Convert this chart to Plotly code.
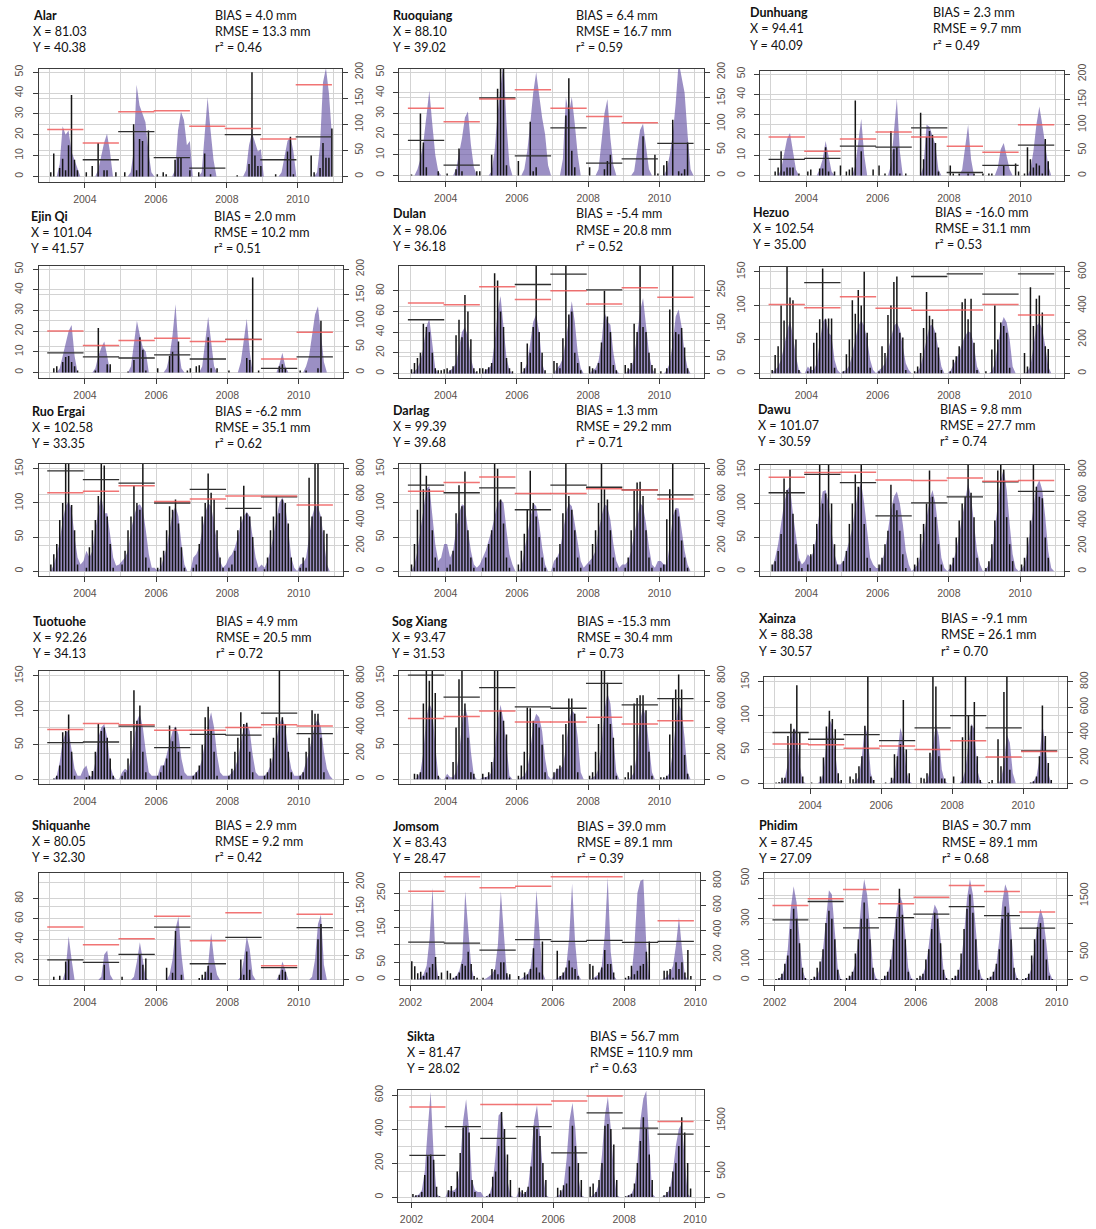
import plotly.graph_objects as go

W, H = 1096, 1229

# ---------------------------------------------------------------- station info
STATIONS = ["Alar", "Ruoquiang", "Dunhuang", "Ejin Qi", "Dulan", "Hezuo",
            "Ruo Ergai", "Darlag", "Dawu", "Tuotuohe", "Sog Xiang", "Xainza",
            "Shiquanhe", "Jomsom", "Phidim", "Sikta"]
LON = ["81.03", "88.10", "94.41", "101.04", "98.06", "102.54", "102.58", "99.39",
       "101.07", "92.26", "93.47", "88.38", "80.05", "83.43", "87.45", "81.47"]
LAT = ["40.38", "39.02", "40.09", "41.57", "36.18", "35.00", "33.35", "39.68",
       "30.59", "34.13", "31.53", "30.57", "32.30", "28.47", "27.09", "28.02"]
BIAS = ["4.0", "6.4", "2.3", "2.0", "-5.4", "-16.0", "-6.2", "1.3",
        "9.8", "4.9", "-15.3", "-9.1", "2.9", "39.0", "30.7", "56.7"]
RMSE = ["13.3", "16.7", "9.7", "10.2", "20.8", "31.1", "35.1", "29.2",
        "27.7", "20.5", "30.4", "26.1", "9.2", "89.1", "89.1", "110.9"]
R2 = ["0.46", "0.59", "0.49", "0.51", "0.52", "0.53", "0.62", "0.71",
      "0.74", "0.72", "0.73", "0.70", "0.42", "0.39", "0.68", "0.63"]
START_YEAR = [2003, 2003, 2003, 2003, 2003, 2003, 2003, 2003,
              2003, 2003, 2003, 2003, 2003, 2002, 2002, 2002]

# ------------------------------------------- monthly precipitation (mm/month)
# *_sim: simulated (shaded area), *_obs: gauge (stems); one row per year
alar_sim = [0,0,0,6,24,20,22,12,8,3,0,0,
            0,0,0,0,3,10,16,20.5,12,0,0,0,
            0,0,0,2,12,44,34,30,26,12,2,0,
            0,0,0,0,0,0,3,22,31,27,15,17,
            0,0,0,2,20,38,22,8,0,0,0,0,
            0,0,0,0,0,0,3,15,21,16,12,13,
            0,0,0,0,0,0,2,10,17,19,12,0,
            0,0,0,0,0,0,2,15,45,52,40,20]
alar_obs = [2,11,0,4,8.5,3,15,39,8,3,0,0,
            2,0,5,0,16,0,3,3,0,0,2,0,
            0,2,0,0,25,3,18,17,0,22,0,0,
            1,0,2,1,0,0,8,9,9,0,0,3,
            0,0,2,0,11,0,1,0,0,0,0,0,
            0,0,0,0.5,0,0,0,6,50,10,5,5,
            0,0,0,0,1,0,0,0,12,19,1,0,
            0,0,0,0,10,2,0,4,16,9,9,23]

ruoquiang_sim = [0,0,3,8,16,28,41,25,10,2,0,0,
                 0,0,0,3,10,18,28,31,15,4,0,0,
                 0,0,0,2,12,30,45,55,25,5,0,0,
                 0,0,3,12,25,40,50,38,28,20,5,0,
                 0,0,0,8,38,30,38,25,10,0,0,0,
                 0,0,0,3,15,30,37,18,5,0,0,0,
                 0,0,0,2,12,22,25,15,3,0,0,0,
                 0,0,3,10,20,35,55,48,40,20,3,0]
ruoquiang_obs = [0.5,0,0,30,16,4,0,0,0,2,0,0,
                 1,0,0,3,13,2,0,0,0,0,2,2,
                 0,0,0,10,0,42,60,60,5,0,0,0,
                 7,0,0,0,26,2,4,0,0,0,0,0,
                 0,0,0,0,29,47,12,4,0,0,0,0,
                 4,0,0,0,0,3,7,10,0,0,0,0,
                 0,0,0,0,0,0,19,0,0,0,10,1,
                 0,5,7,0,27,0,2,1,3,16,0,0]

dunhuang_sim = [0,0,0,3,10,18,21,12,3,0,0,0,
                0,0,0,0,3,8,17,10,2,0,0,0,
                0,0,0,0,5,18,28,10,0,0,0,0,
                0,0,0,0,5,20,38,12,0,0,0,0,
                0,0,0,5,25,24,20,15,3,0,0,0,
                0,0,0,0,3,15,25,8,0,0,0,0,
                0,0,0,0,4,13,16,10,3,0,0,0,
                0,0,0,3,12,25,34,25,15,5,0,0]
dunhuang_obs = [0,2,4,12,2,4,4,4,0,1,0,0,
                2,3,0,0,3.5,3.5,14,2,0,2,0,5,
                0,2,3,4,37,0,12,0,0,0,3,0,
                5,0,1,0,22,13,14,1,0,1,0,0,
                0,0,31,8,19,22,20,16,2,0,0,0,
                5,1,0,1,0,0,1,0,1,0,0,1,
                0,1,1,0,0,0,5,0,0,0,6,2,
                0,1,14,8,4,6,5,1,18,7,0,0]

ejinqi_sim = [0,0,0,2,8,15,20,23,8,0,0,0,
              0,0,0,2,8,12,15,8,0,0,0,0,
              0,0,0,3,15,25,18,12,10,0,0,0,
              0,0,0,2,8,18,33,12,2,0,0,0,
              0,0,0,3,15,27,15,3,0,0,0,0,
              0,0,0,0,5,15,26,10,0,0,0,0,
              0,0,0,0,0,4,9.5,3,0,0,0,0,
              0,0,3,8,18,28,32,18,5,0,0,0]
ejinqi_obs = [0,2,3,0,5,7.5,8,5,3,1,0,0,
              0,0,0,1,21.5,0,0,4,4,0,0,0,
              0,0,0.5,0,6,0,17,11,1,0,0,0,
              2,0,0,0,8,10,0,15,0,0,1,2,
              0,3,3.5,0,0,17,2,0,2,0,0,0,
              1,0,0,0,0,0,7,6,46,0,1,0,
              0,0,0,0,0,3,4,2,0,0,0,0,
              1,0,1,0,0,0,2,25,0,0,0,0]

dulan_sim = [0,2,5,12,25,45,53,30,5,0,0,0,
             0,3,5,10,25,40,45,35,15,3,0,0,
             0,3,5,8,30,60,75,45,15,3,0,0,
             0,0,3,10,30,50,57,40,10,0,0,0,
             0,5,8,15,35,55,70,50,20,5,0,0,
             0,3,5,12,30,60,50,47,20,3,0,0,
             0,3,5,15,35,60,73,45,20,5,0,0,
             0,0,3,10,30,55,62,45,20,5,0,0]
dulan_obs = [4,10,15,20,48,45,40,20,5,3,3,4,
             5,3,7,37,52,35,76,60,33,5,2,5,
             5,4,6,10,97,90,60,45,15,5,2,0,
             0,11,5,29,20,45,110,40,20,3,0,0,
             12,10,5,34,110,57,60,20,10,3,0,0,
             7,5,3,10,30,80,55,40,8,3,0,0,
             8,5,10,48,40,110,45,40,20,8,5,0,
             2,0,5,62,110,40,38,44,25,5,0,0]

hezuo_sim = [2,5,10,20,40,62,78,55,25,5,0,0,
             10,5,5,15,45,75,82,60,55,20,5,0,
             3,5,12,28,50,70,78,70,50,20,5,0,
             5,8,15,35,55,70,75,65,40,15,5,0,
             0,3,10,30,55,70,72,60,35,10,0,0,
             3,12,20,30,45,55,62,60,40,10,0,0,
             0,0,3,15,40,70,83,75,50,10,0,0,
             0,0,3,10,40,70,75,65,40,10,0,0]
hezuo_obs = [5,27,40,100,78,160,112,108,50,5,0,0,
             3,10,45,60,80,155,80,81,81,8,0,0,
             3,28,50,108,88,123,100,150,60,8,0,0,
             3,40,30,86,100,135,143,60,53,5,0,0,
             3,10,30,67,120,85,80,60,38,5,0,0,
             3,20,25,40,105,110,80,110,45,5,0,0,
             3,0,35,100,50,75,70,60,8,0,0,0,
             0,30,10,127,70,110,115,90,40,36,0,0]

ruoergai_sim = [0,10,25,45,75,95,103,90,50,20,10,15,
                30,20,30,60,90,110,85,85,50,20,8,10,
                15,20,30,60,80,95,98,90,60,25,5,5,
                0,5,20,35,60,85,95,80,40,10,0,0,
                20,25,35,60,85,100,95,70,40,15,5,10,
                20,25,35,50,70,80,87,80,50,20,5,10,
                5,15,30,55,80,100,108,95,60,20,5,0,
                10,12,20,50,80,95,95,80,40,10,0,0]
ruoergai_obs = [10,25,40,75,100,160,160,97,60,10,0,0,
                5,35,60,75,110,160,155,80,40,5,0,0,
                10,30,60,80,125,100,90,160,20,5,0,0,
                5,20,30,60,95,90,105,70,35,5,0,0,
                5,10,40,80,100,143,115,105,60,20,5,0,
                5,10,30,60,80,125,85,80,50,5,0,0,
                3,20,60,80,110,85,105,100,70,20,0,0,
                5,20,5,137,80,160,160,80,60,55,0,0]

darlag_sim = [0,10,30,60,95,120,125,80,40,15,20,40,
              40,20,30,60,85,98,95,60,30,10,5,10,
              20,30,45,60,80,100,105,100,60,25,10,0,
              0,5,30,55,80,100,95,70,35,10,0,0,
              15,20,30,60,85,100,95,70,40,15,5,10,
              15,20,30,60,80,98,95,75,40,15,5,10,
              10,15,30,55,80,100,95,70,35,10,5,15,
              15,10,10,40,80,93,92,60,30,10,0,0]
darlag_obs = [10,40,90,160,120,140,120,60,20,5,0,0,
              5,10,30,85,126,95,146,60,20,5,0,0,
              5,20,40,60,160,150,105,70,20,5,0,0,
              10,30,55,90,147,100,80,50,20,5,0,0,
              5,20,40,85,160,110,90,60,20,5,0,0,
              10,40,60,100,160,120,105,60,20,5,0,0,
              5,20,60,118,130,131,110,60,20,5,0,0,
              5,10,76,120,160,90,80,45,20,5,0,0]

dawu_sim = [5,20,40,70,100,120,125,85,50,20,10,15,
            25,20,30,55,90,118,120,100,60,25,10,10,
            15,30,45,65,95,120,130,100,60,20,10,5,
            5,15,30,60,90,110,118,100,70,30,10,0,
            5,10,25,50,80,105,120,100,60,20,5,0,
            5,15,30,55,85,110,130,110,70,30,10,0,
            3,10,25,60,100,135,152,120,70,25,5,0,
            3,10,30,60,95,125,135,120,80,30,5,0]
dawu_obs = [10,15,30,55,137,120,150,85,40,15,5,0,
            10,25,40,70,160,100,115,160,100,40,10,0,
            15,30,70,100,143,125,160,70,20,5,0,0,
            10,20,40,60,128,100,90,60,25,5,0,0,
            10,20,55,70,100,149,110,80,40,10,0,0,
            10,20,50,75,100,110,160,116,80,20,0,0,
            5,15,40,75,149,160,150,80,40,15,0,0,
            10,20,50,75,160,125,110,108,50,20,0,0]

tuotuohe_sim = [0,0,5,25,55,68,70,45,15,5,5,15,
                20,3,5,25,60,75,80,60,20,5,0,0,
                10,15,12,30,60,85,95,75,40,10,5,5,
                5,20,20,35,55,70,77,65,30,10,5,5,
                5,10,15,30,55,80,97,75,35,10,5,5,
                5,10,15,30,55,75,82,70,35,10,5,5,
                5,10,20,35,60,80,90,75,40,15,5,5,
                5,10,25,40,60,80,88,75,40,15,5,0]
tuotuohe_obs = [0,1,5,20,68,70,94,40,5,0,0,0,
                3,5,12,40,80,70,75,60,30,5,0,0,
                5,10,30,70,129,85,107,40,10,0,0,0,
                5,10,20,30,78,55,75,40,5,0,0,0,
                5,10,20,50,90,105,70,40,5,0,0,0,
                5,15,40,60,97,80,82,40,10,0,0,0,
                5,10,30,60,90,160,90,80,40,10,0,0,
                5,10,40,60,100,95,95,60,10,0,0,0]

sogxiang_sim = [0,0,3,10,40,90,110,100,50,5,0,0,
                8,3,3,10,35,80,105,90,40,5,0,0,
                3,3,5,10,40,85,108,85,50,5,0,0,
                0,3,5,15,40,80,95,90,70,30,5,0,
                5,15,15,20,45,85,100,95,60,10,0,0,
                0,3,5,15,50,100,125,110,60,10,0,0,
                0,0,3,10,40,85,105,90,50,10,0,0,
                0,0,3,10,40,80,108,100,60,10,0,0]
sogxiang_obs = [0,8,7,10,110,160,143,160,125,5,0,0,
                3,0,25,75,145,160,110,60,10,8,0,0,
                8,3,10,25,160,160,100,85,65,2,0,0,
                5,20,40,104,103,85,80,75,50,10,0,0,
                10,15,20,65,80,117,117,95,10,0,0,0,
                5,10,40,80,160,160,140,80,60,5,0,0,
                3,10,20,110,118,122,122,100,40,5,0,0,
                3,3,5,65,117,130,152,130,35,8,0,0]

xainza_sim = [0,0,2,8,30,65,82,75,25,3,0,0,
              0,0,0,3,15,60,95,85,40,5,0,0,
              0,0,0,3,10,40,85,70,15,0,0,0,
              0,0,0,2,10,45,82,65,20,3,0,0,
              0,0,0,3,20,55,88,70,20,3,0,0,
              0,0,0,5,20,60,88,80,20,3,0,0,
              0,0,0,0,5,30,72,60,15,0,0,0,
              0,0,0,3,10,35,88,55,15,0,0,0]
xainza_obs = [1,2,8,8,70,88,80,145,75,10,0,0,
              1,0,0,10,38,84,107,95,80,15,5,0,
              0,10,6,15,25,40,85,160,10,5,0,0,
              0,1,0,8,43,40,58,123,50,15,0,0,
              0,8,7,15,45,160,143,40,7,7,0,0,
              10,0,0,68,160,100,85,120,40,5,0,0,
              2,5,0,65,25,135,160,20,0,0,0,0,
              0,0,1,3,10,40,115,70,30,5,0,0]

shiquanhe_sim = [0,0,0,0,0,10,43,20,0,0,0,0,
                 0,0,0,0,0,3,25,29,5,0,0,0,
                 0,0,0,0,3,18,37,20,2,0,0,0,
                 0,0,0,0,5,20,50,62,25,0,0,0,
                 0,0,0,0,3,15,46,20,5,0,0,0,
                 0,0,0,0,3,20,43,30,5,0,0,0,
                 0,0,0,0,0,5,18,10,0,0,0,0,
                 0,0,0,0,3,20,55,64,15,0,0,0]
shiquanhe_obs = [0,3,0,4,0,18,20,0,0,0,0,0,
                 0,0,0,0,0,0,15,0,0,0,0,0,
                 3,0,0,0,0,0,25,15,21,0,0,0,
                 0,0,0,12,0,7,48,0,5,0,0,0,
                 0,0,2,5,8,14,7,0,0,0,0,0,
                 0,0,0,0,20,5,28,10,0,0,0,0,
                 0,0,0,0,0,5,10,8,0,0,0,0,
                 0,0,0,0,0,0,40,55,0,0,0,0]

jomsom_sim = [0,0,0,5,15,40,120,265,60,0,0,0,
              0,0,3,10,25,60,255,150,40,0,0,0,
              0,3,8,15,30,100,255,120,15,0,0,0,
              0,3,8,15,35,100,258,130,20,0,0,0,
              0,3,8,15,35,120,278,110,15,0,0,0,
              0,3,8,15,40,130,295,80,10,0,0,0,
              0,3,10,100,250,285,290,100,0,0,0,0,
              0,3,8,20,40,100,180,90,10,0,0,0]
jomsom_obs = [53,38,18,22,10,20,35,45,65,10,20,0,
              25,18,5,10,20,45,40,80,45,10,5,0,
              5,0,0,30,28,15,50,50,18,15,0,0,
              10,0,20,15,30,90,35,20,110,0,0,0,
              0,83,10,20,35,55,35,30,10,0,0,0,
              45,40,5,20,35,85,45,45,20,0,0,0,
              5,10,40,15,25,40,45,80,110,0,0,0,
              0,25,25,30,5,50,30,50,20,85,10,0]

phidim_sim = [0,5,20,60,150,350,460,380,200,50,5,0,
              0,5,20,60,150,300,440,420,250,60,5,0,
              0,10,30,80,200,380,495,420,250,60,10,0,
              0,10,30,80,200,330,420,380,220,60,10,0,
              0,5,25,70,170,300,370,340,200,50,5,0,
              0,10,30,90,220,400,495,420,250,60,10,0,
              0,10,30,80,200,380,470,430,250,60,10,0,
              0,5,20,60,150,280,350,300,180,40,5,0]
phidim_obs = [5,10,30,80,120,250,350,300,180,60,10,0,
              5,15,60,90,150,280,340,300,200,50,5,0,
              10,20,40,130,200,300,380,300,200,60,5,0,
              5,20,40,100,200,300,448,320,200,40,5,0,
              10,20,30,100,150,250,330,300,180,50,10,0,
              10,20,50,130,250,350,420,330,200,50,5,0,
              10,15,40,80,150,300,360,330,200,60,10,0,
              5,10,30,120,200,260,280,200,100,20,5,0]

sikta_sim = [0,10,15,40,150,400,620,250,20,0,0,0,
             40,35,40,60,200,450,575,400,100,40,30,30,
             0,5,20,80,250,480,500,350,100,10,0,0,
             40,20,20,60,220,450,540,370,150,10,0,0,
             0,5,20,60,220,450,555,400,120,10,0,0,
             0,10,30,80,250,480,590,400,150,10,0,0,
             0,10,20,60,200,450,580,625,300,20,0,0,
             0,5,20,50,150,300,400,430,200,20,0,0]
sikta_obs = [18,10,10,30,130,240,250,220,60,5,0,0,
             40,65,30,150,260,410,420,380,100,30,0,0,
             0,5,20,120,150,300,500,400,250,100,0,0,
             55,40,30,60,180,420,400,360,200,100,0,0,
             0,55,40,70,80,180,420,300,200,100,0,0,
             60,80,30,100,200,420,430,400,310,100,0,0,
             5,10,20,80,200,330,470,400,250,100,0,0,
             0,10,30,60,150,200,300,470,380,200,50,0]

# ------------------------------------------------ annual totals (mm/year)
alar_obs_year = [None, 32, 86, 36, 16, 80, 32, 76]
alar_sim_year = [90, 64, 124, 126, 96, 92, 72, 176]
ruoquiang_obs_year = [68, 20, 150, 38, 92, 24, 32, 62]
ruoquiang_sim_year = [130, 104, 148, 166, 130, 114, 102, None]
dunhuang_obs_year = [32, 34, 58, 56, 94, 6, 20, 60]
dunhuang_sim_year = [76, 48, 72, 86, 76, 58, 46, 100]
ejinqi_obs_year = [38, 30, 28, 34, 26, 64, 8, 30]
ejinqi_sim_year = [80, 52, 62, 66, 60, 64, 26, 78]
dulan_obs_year = [161, None, None, 267, 298, 251, None, None]
dulan_sim_year = [211, 206, 260, 222, 248, 208, 257, 229]
hezuo_obs_year = [None, 536, None, None, 572, 588, 468, 588]
hezuo_sim_year = [406, 388, 452, 384, 372, 374, 406, 344]
ruoergai_obs_year = [784, 715, 688, 533, 640, 491, 581, None]
ruoergai_sim_year = [613, 624, 667, 544, 565, 587, 587, 517]
darlag_obs_year = [672, 613, 651, 480, 672, 656, 635, 597]
darlag_sim_year = [624, 693, 736, 608, 608, 645, 635, 565]
dawu_obs_year = [619, 763, 699, 437, 539, 587, 704, 629]
dawu_sim_year = [741, 779, 781, 720, 715, 736, 709, 715]
tuotuohe_obs_year = [283, 288, 411, 245, 347, 341, 512, 352]
tuotuohe_sim_year = [384, 432, 421, 379, 379, 400, 421, 411]
sogxiang_obs_year = [805, 635, 709, 560, 549, 741, 576, 624]
sogxiang_sim_year = [469, 485, 528, 443, 443, 480, 427, 453]
xainza_obs_year = [400, 347, 384, 336, 437, 533, 437, 256]
xainza_sim_year = [309, 304, 277, 293, 267, 336, 208, 251]
shiquanhe_obs_year = [41, 36, 52, 108, 33, 87, 25, 107]
shiquanhe_sim_year = [108, 72, 84, 130, 80, 137, 29, 134]
jomsom_obs_year = [302, 294, 238, 322, 308, 316, 300, 308]
jomsom_sim_year = [714, 832, 742, 756, 832, 832, None, 476]
phidim_obs_year = [1071, 1398, 926, 1111, 1172, 1307, 1147, 922]
phidim_sim_year = [1325, 1445, 1612, 1358, 1474, 1684, 1575, 1209]
sikta_obs_year = [816, 1382, 1149, 1382, 866, 1648, 1349, 1232]
sikta_sim_year = [1765, None, 1815, 1815, 1881, 1981, None, 1482]

SIM = [alar_sim, ruoquiang_sim, dunhuang_sim, ejinqi_sim, dulan_sim, hezuo_sim,
       ruoergai_sim, darlag_sim, dawu_sim, tuotuohe_sim, sogxiang_sim, xainza_sim,
       shiquanhe_sim, jomsom_sim, phidim_sim, sikta_sim]
OBS = [alar_obs, ruoquiang_obs, dunhuang_obs, ejinqi_obs, dulan_obs, hezuo_obs,
       ruoergai_obs, darlag_obs, dawu_obs, tuotuohe_obs, sogxiang_obs, xainza_obs,
       shiquanhe_obs, jomsom_obs, phidim_obs, sikta_obs]
OBS_YEAR = [alar_obs_year, ruoquiang_obs_year, dunhuang_obs_year, ejinqi_obs_year,
            dulan_obs_year, hezuo_obs_year, ruoergai_obs_year, darlag_obs_year,
            dawu_obs_year, tuotuohe_obs_year, sogxiang_obs_year, xainza_obs_year,
            shiquanhe_obs_year, jomsom_obs_year, phidim_obs_year, sikta_obs_year]
SIM_YEAR = [alar_sim_year, ruoquiang_sim_year, dunhuang_sim_year, ejinqi_sim_year,
            dulan_sim_year, hezuo_sim_year, ruoergai_sim_year, darlag_sim_year,
            dawu_sim_year, tuotuohe_sim_year, sogxiang_sim_year, xainza_sim_year,
            shiquanhe_sim_year, jomsom_sim_year, phidim_sim_year, sikta_sim_year]

# ------------------------------------------------------------- panel layout
# plot box in pixels: (left, right, top, bottom)
BOX = [(37, 343, 69, 182), (401, 708, 69, 181), (765, 1072, 71, 181),
       (37, 344, 266, 378), (401, 708, 266, 378), (765, 1072, 267, 378),
       (37, 344, 464, 576), (401, 708, 464, 576), (765, 1072, 465, 576),
       (37, 344, 671, 784), (401, 708, 671, 784), (769, 1075, 677, 788),
       (37, 344, 873, 985), (402, 704, 873, 985), (769, 1075, 873, 985),
       (400, 708, 1090, 1202)]
XRANGE = [(2002.7, 2011.24)] * 13 + [(2001.72, 2010.12), (2001.7, 2010.3), (2001.63, 2010.24)]
YRANGE = [(-2.7, 51.5)] * 4 + [(-4.5, 104)] + [(-7, 157)] * 7 + \
         [(-5, 105), (-16, 308), (-25, 525), (-29, 630)]
# labelled ticks on the left axis, plus unlabelled tick marks
YTICKS = [[0, 10, 20, 30, 40, 50]] * 4 + [[0, 20, 40, 60, 80]] + [[0, 50, 100, 150]] * 7 + \
         [[0, 20, 40, 60, 80], [0, 50, 150, 250], [0, 100, 300, 500], [0, 200, 400, 600]]
YMINOR = [None] * 13 + [[100, 200], [200, 400], None]
K = [4, 4, 4, 4, 3.1, 4, 16 / 3, 16 / 3, 16 / 3, 16 / 3, 16 / 3, 16 / 3, 2.08, 2.8, 3.63, 3.33]
RTICKS = [[0, 50, 100, 150, 200]] * 4 + [[0, 50, 150, 250], [0, 200, 400, 600]] + \
         [[0, 200, 400, 600, 800]] * 6 + [[0, 50, 100, 150, 200], [0, 200, 400, 600, 800],
                                          [0, 500, 1500], [0, 500, 1500]]
RMINOR = [None] * 4 + [[100, 200], [100, 300, 500]] + [None] * 8 + [[1000], [1000]]
RSTANDOFF = [3] * 11 + [2] + [3, 3, 2, 3]
# header text: (station x, statistics x, top of first line) in pixels
HEAD = [(29, 213, 10.7), (393, 577, 10.7), (753, 938, 8.3),
        (27, 212, 211.7), (393, 577, 209.5), (756, 940, 207.7),
        (28, 213, 406.7), (393, 577, 406), (761, 945, 405),
        (29, 214, 616.7), (392, 578, 616.7), (762, 946, 614.3),
        (28, 213, 821), (393, 578, 821.7), (762, 947, 821.5),
        (407, 591, 1032)]

AREA = "rgba(108, 90, 168, 0.68)"
STEM = "#151515"
RED = "rgba(238, 92, 92, 0.85)"
BLACK = "#2e2e2e"
GRID = "#d3d3d3"
AXIS = "#3c3c3c"
TICKFONT = dict(family="Liberation Sans, Arial, sans-serif", size=10.5, color="#5a504b")
HEADFONT = dict(family="Lato, sans-serif", size=12.5, color="#111111")
NAMEFONT = dict(family="Lato, sans-serif", size=12.5, color="#111111", weight=700)


def py(y):
    """Vertical pixel position from the top edge, as placed on the page."""
    return y - 7 * (1 - y / H)


def month_x(start, n):
    return [start + (i + 0.5) / 12 for i in range(n)]


def stems(xs, vals):
    sx, sy = [], []
    for x, v in zip(xs, vals):
        if v:
            sx += [x, x, None]
            sy += [0, v, None]
    return sx, sy


def year_segments(start, vals):
    sx, sy = [], []
    for i, v in enumerate(vals):
        if v is None:
            continue
        sx += [start + i - 0.06, start + i + 0.96, None]
        sy += [v, v, None]
    return sx, sy


def minor_ticks(vals):
    if not vals:
        return dict(showgrid=False, ticks="")
    return dict(tickmode="array", tickvals=vals, ticks="outside", ticklen=5,
                tickcolor=AXIS, showgrid=True, gridcolor=GRID, gridwidth=1)


fig = go.Figure()
layout = dict(width=W, height=H, margin=dict(l=0, r=0, t=0, b=0),
              paper_bgcolor="white", plot_bgcolor="white", showlegend=False,
              annotations=[])

for p in range(len(STATIONS)):
    n = p + 1
    xname = "x" if n == 1 else f"x{n}"
    yl = 2 * p + 1
    yr = 2 * p + 2
    ylname = "y" if yl == 1 else f"y{yl}"
    yrname = f"y{yr}"
    start = START_YEAR[p]
    xs = month_x(start, len(SIM[p]))

    fig.add_trace(go.Scatter(x=xs, y=SIM[p], mode="lines", fill="tozeroy",
                             fillcolor=AREA, line=dict(width=0, color=AREA),
                             hoverinfo="skip", xaxis=xname, yaxis=ylname))
    bx, by = stems(month_x(start, len(OBS[p])), OBS[p])
    fig.add_trace(go.Scatter(x=bx, y=by, mode="lines", line=dict(color=STEM, width=1.5),
                             hoverinfo="skip", xaxis=xname, yaxis=ylname))
    ox, oy = year_segments(start, OBS_YEAR[p])
    fig.add_trace(go.Scatter(x=ox, y=oy, mode="lines", line=dict(color=BLACK, width=1.3),
                             hoverinfo="skip", xaxis=xname, yaxis=yrname))
    sx, sy = year_segments(start, SIM_YEAR[p])
    fig.add_trace(go.Scatter(x=sx, y=sy, mode="lines", line=dict(color=RED, width=1.5),
                             hoverinfo="skip", xaxis=xname, yaxis=yrname))

    left, right, top, bottom = BOX[p]
    top, bottom = py(top), py(bottom)
    lo, hi = YRANGE[p]
    layout["xaxis" if n == 1 else f"xaxis{n}"] = dict(
        domain=[left / W, right / W], range=list(XRANGE[p]), anchor=ylname,
        tickmode="linear", tick0=2002, dtick=2, ticks="outside", ticklen=5,
        tickcolor=AXIS, tickfont=TICKFONT, ticklabelstandoff=2,
        showline=True, mirror=True, linecolor=AXIS, linewidth=1,
        showgrid=True, gridcolor=GRID, gridwidth=1, zeroline=False,
        minor=dict(tick0=2003, dtick=1, showgrid=True, gridcolor=GRID, ticks=""))
    layout["yaxis" if yl == 1 else f"yaxis{yl}"] = dict(
        domain=[1 - bottom / H, 1 - top / H], range=[lo, hi], anchor=xname,
        tickmode="array", tickvals=YTICKS[p], tickangle=-90, ticks="outside",
        ticklen=5, tickcolor=AXIS, tickfont=TICKFONT, ticklabelstandoff=5,
        showline=True, mirror=True, linecolor=AXIS, linewidth=1,
        showgrid=True, gridcolor=GRID, gridwidth=1, zeroline=False,
        minor=minor_ticks(YMINOR[p]))
    layout[f"yaxis{yr}"] = dict(
        overlaying=ylname, side="right", anchor=xname,
        range=[lo * K[p], hi * K[p]], tickmode="array", tickvals=RTICKS[p],
        tickangle=-90, ticks="outside", ticklen=5, tickcolor=AXIS,
        tickfont=TICKFONT, ticklabelstandoff=RSTANDOFF[p],
        showline=True, linecolor=AXIS, linewidth=1,
        showgrid=True, gridcolor=GRID, gridwidth=1, zeroline=False,
        minor=minor_ticks(RMINOR[p]))

    nx, stx, ty = HEAD[p]
    left_lines = [(STATIONS[p], NAMEFONT), (f"X = {LON[p]}", HEADFONT),
                  (f"Y = {LAT[p]}", HEADFONT)]
    right_lines = [(f"BIAS = {BIAS[p]} mm", HEADFONT), (f"RMSE = {RMSE[p]} mm", HEADFONT),
                   (f"r\u00b2 = {R2[p]}", HEADFONT)]
    for i in range(3):
        yc = py(ty + i * 16.2 + 4.4)
        for xp, (txt, fnt) in ((nx, left_lines[i]), (stx, right_lines[i])):
            layout["annotations"].append(dict(
                x=xp / W, y=1 - yc / H, xref="paper", yref="paper",
                xanchor="left", yanchor="middle", text=txt, showarrow=False,
                font=fnt))

fig.update_layout(**layout)
fig.write_html("out.html")
